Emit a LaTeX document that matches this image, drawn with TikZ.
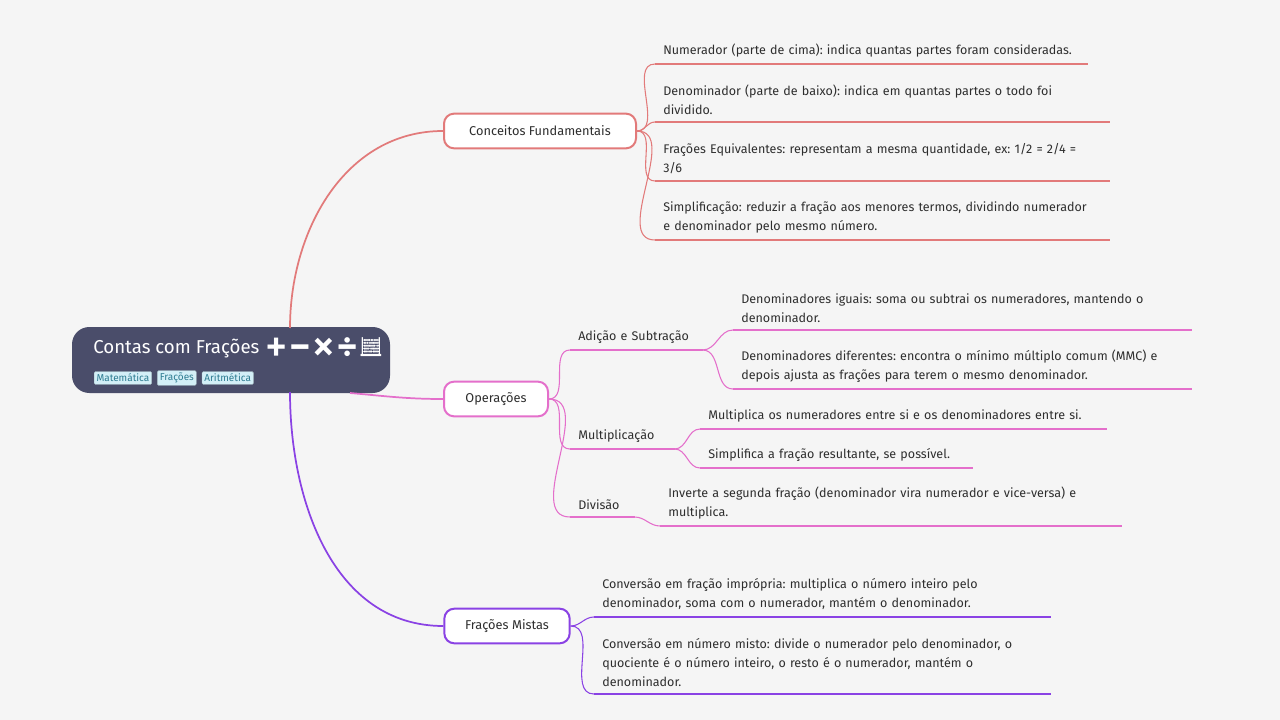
\documentclass[tikz,border=0pt]{standalone}
\usepackage{fontspec}
\setmainfont{Fira Sans}
\newfontfamily\emojifont{Noto Emoji}
\usetikzlibrary{positioning}
\definecolor{bg}{HTML}{F5F5F5}
\definecolor{rootfill}{HTML}{4A4D6A}
\definecolor{tagfill}{HTML}{D3EFF7}
\definecolor{tagtext}{HTML}{2E7C91}
\definecolor{cred}{HTML}{E27A7A}
\definecolor{cpink}{HTML}{E46FCB}
\definecolor{cpurple}{HTML}{8A42E4}
\definecolor{txt}{HTML}{2E2E2E}
\frenchspacing
\tikzset{
  mainbox/.style={draw, line width=1.5pt, fill=white, rounded corners=7.5pt, minimum height=26pt, inner xsep=12pt, font=\fontsize{9.6}{11}\selectfont, text=txt},
  leaf/.style={anchor=south west, inner xsep=6pt, inner ysep=5pt, align=left, font=\fontsize{9.4}{14.25}\selectfont, text=txt},
  tag/.style={fill=tagfill, draw=tagfill!80!black, line width=0.3pt, rounded corners=1pt, inner sep=1.8pt, font=\fontsize{7.5}{8.5}\selectfont, text=tagtext},
  link/.style={line width=1.3pt},
  sublink/.style={line width=0.8pt}
}
\begin{document}
\begin{tikzpicture}[x=0.75pt, y=-0.75pt]
    \fill[bg] (0,0) rectangle (1280,720);
    \useasboundingbox (0,0) rectangle (1280,720);

    % root
    \fill[rootfill] (72,327) [rounded corners=13pt] rectangle (390,393);
    \node[anchor=west, text=white, font=\fontsize{14}{16}\selectfont, inner sep=0pt] (root) at (93,348)
        {Contas com Frações {\emojifont ➕➖✖➗🧮}};
    \node[tag, anchor=west] (t1) at (94,378) {Matemática};
    \node[tag, right=4pt of t1] (t2) {Frações};
    \node[tag, right=4pt of t2] (t3) {Aritmética};

    % main branches
    \node[mainbox, draw=cred, minimum width=144pt] (cf) at (540,131) {Conceitos Fundamentais};
    \node[mainbox, draw=cpink, minimum width=78pt] (op) at (496,399) {Operações};
    \node[mainbox, draw=cpurple, minimum width=94pt] (fm) at (507,626) {Frações Mistas};

    \coordinate (r1) at (290,328);
    \coordinate (r2) at (350,393);
    \coordinate (r3) at (290,392);
    \draw[link, cred] (r1) to[out=90, in=180] (cf.west);
    \draw[link, cpink] (r2) to[out=-5, in=180] (op.west);
    \draw[link, cpurple] (r3) to[out=-90, in=180] (fm.west);

    % Conceitos Fundamentais
    \node[leaf, text width=312pt] (c1) at (655,64)
        {Numerador (parte de cima): indica quantas partes foram consideradas.};
    \node[leaf, text width=329pt] (c2) at (655,122)
        {Denominador (parte de baixo): indica em quantas partes o todo foi\\dividido.};
    \node[leaf, text width=329pt] (c3) at (655,181)
        {Frações Equivalentes: representam a mesma quantidade, ex: 1/2 = 2/4 =\\3/6};
    \node[leaf, text width=329pt] (c4) at (655,240)
        {Simplificação: reduzir a fração aos menores termos, dividindo numerador\\e denominador pelo mesmo número.};
    \foreach \n in {c1,c2,c3,c4} {
        \draw[sublink, cred] (\n.south west) -- (\n.south east);
        \draw[sublink, cred] (cf.east) to[out=0, in=180] (\n.south west);
    }

    % Operações
    \node[leaf, text width=87pt] (as) at (570,350) {Adição e Subtração};
    \node[leaf, text width=66pt] (mu) at (570,449) {Multiplicação};
    \node[leaf, text width=36pt] (dv) at (570,517) {Divisão};
    \node[leaf, text width=332pt] (a1) at (733,330)
        {Denominadores iguais: soma ou subtrai os numeradores, mantendo o\\denominador.};
    \node[leaf, text width=332pt] (a2) at (733,389)
        {Denominadores diferentes: encontra o mínimo múltiplo comum (MMC) e\\depois ajusta as frações para terem o mesmo denominador.};
    \node[leaf, text width=293pt] (m1) at (700,429)
        {Multiplica os numeradores entre si e os denominadores entre si.};
    \node[leaf, text width=192pt] (m2) at (700,468)
        {Simplifica a fração resultante, se possível.};
    \node[leaf, text width=334pt] (d1) at (660,526)
        {Inverte a segunda fração (denominador vira numerador e vice-versa) e\\multiplica.};
    \foreach \n in {as,mu,dv,a1,a2,m1,m2,d1}
        \draw[sublink, cpink] (\n.south west) -- (\n.south east);
    \foreach \n in {as,mu,dv}
        \draw[sublink, cpink] (op.east) to[out=0, in=180] (\n.south west);
    \foreach \n in {a1,a2}
        \draw[sublink, cpink] (as.south east) to[out=0, in=180] (\n.south west);
    \foreach \n in {m1,m2}
        \draw[sublink, cpink] (mu.south east) to[out=0, in=180] (\n.south west);
    \draw[sublink, cpink] (dv.south east) to[out=0, in=180] (d1.south west);

    % Frações Mistas
    \node[leaf, text width=330pt] (f1) at (594,617)
        {Conversão em fração imprópria: multiplica o número inteiro pelo\\denominador, soma com o numerador, mantém o denominador.};
    \node[leaf, text width=330pt] (f2) at (594,694)
        {Conversão em número misto: divide o numerador pelo denominador, o\\quociente é o número inteiro, o resto é o numerador, mantém o\\denominador.};
    \foreach \n in {f1,f2} {
        \draw[sublink, cpurple] (\n.south west) -- (\n.south east);
        \draw[sublink, cpurple] (fm.east) to[out=0, in=180] (\n.south west);
    }
\end{tikzpicture}
\end{document}
